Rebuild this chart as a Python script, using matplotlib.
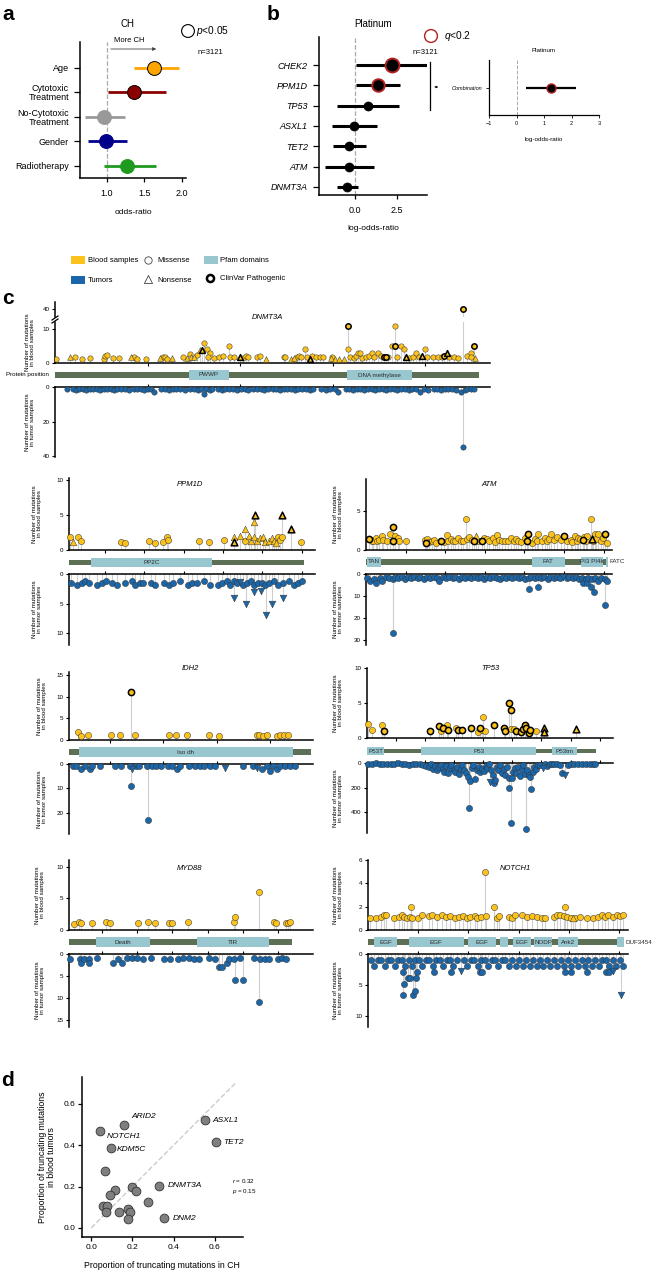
import matplotlib
matplotlib.use('Agg')
import matplotlib.pyplot as plt
from matplotlib.patches import Rectangle

plt.rcParams['font.family'] = ['Liberation Sans', 'DejaVu Sans']
plt.rcParams['mathtext.fontset'] = 'custom'
plt.rcParams['mathtext.it'] = 'Liberation Sans:italic'
plt.rcParams['mathtext.rm'] = 'Liberation Sans'

# ---------------- data ----------------
# panel a: odds ratios for CH
a_labels = ['Age', 'Cytotoxic\nTreatment', 'No-Cytotoxic\nTreatment', 'Gender', 'Radiotherapy']
a_or = [1.63, 1.36, 0.97, 0.99, 1.27]
a_lo = [1.36, 1.02, 0.72, 0.76, 0.97]
a_hi = [1.96, 1.79, 1.25, 1.27, 1.65]
a_sig = [True, True, False, False, False]

# panel b: platinum log-odds-ratios
b_genes = ['CHEK2', 'PPM1D', 'TP53', 'ASXL1', 'TET2', 'ATM', 'DNMT3A']
b_est = [2.2, 1.4, 0.75, -0.05, -0.35, -0.35, -0.45]
b_lo = [0.05, 0.05, -1.1, -1.35, -1.3, -1.8, -1.1]
b_hi = [4.3, 2.7, 2.6, 1.3, 0.65, 1.15, 0.2]
b_sig = [True, True, False, False, False, False, False]
comb_est, comb_lo, comb_hi = 1.25, 0.35, 2.15

# panel c: (protein position, count, type) m=missense n=nonsense, upper case = ClinVar pathogenic
dnmt3a_blood = [(2, 1.1, 'm'), (33, 1.9, 'n'), (43, 1.7, 'm'), (58, 1.1, 'm'), (76, 1.4, 'm'), (105, 1.1, 'm'),
                (108, 2.0, 'm'), (112, 2.3, 'm'), (126, 1.6, 'm'), (139, 1.4, 'm'), (164, 1.9, 'n'), (170, 1.7, 'm'),
                (177, 1.1, 'm'), (197, 1.1, 'm'), (227, 1.4, 'n'), (233, 1.9, 'm'), (238, 1.7, 'm'), (242, 1.1, 'm'),
                (253, 1.4, 'n'), (277, 1.7, 'm'), (285, 1.4, 'n'), (291, 2.8, 'm'), (294, 1.9, 'n'), (300, 1.7, 'n'),
                (307, 2.4, 'm'), (313, 3.8, 'n'), (317, 3.8, 'N'), (323, 6, 'm'), (329, 4, 'm'), (335, 3, 'm'),
                (330, 1.7, 'm'), (343, 1.4, 'm'), (354, 1.7, 'm'), (363, 2, 'm'), (376, 5, 'm'), (379, 1.7, 'm'),
                (386, 1.7, 'm'), (399, 1.7, 'N'), (407, 1.4, 'm'), (412, 2, 'm'), (417, 1.7, 'm'), (437, 1.9, 'm'),
                (444, 2, 'm'), (456, 1.1, 'n'), (495, 1.9, 'm'), (498, 1.7, 'm'), (511, 1.1, 'n'), (516, 1.4, 'n'),
                (522, 1.9, 'm'), (527, 2, 'm'), (532, 1.7, 'm'), (540, 4, 'm'), (544, 1.7, 'm'), (551, 1.1, 'N'),
                (556, 2, 'm'), (565, 1.7, 'm'), (573, 1.9, 'm'), (580, 1.9, 'm'), (596, 1.4, 'n'), (599, 1.7, 'm'),
                (604, 1.1, 'n'), (614, 1.1, 'n'), (625, 1.1, 'n'), (634, 11, 'M'), (634, 4, 'm'), (638, 1.7, 'm'),
                (646, 1.4, 'm'), (650, 2, 'm'), (655, 3, 'm'), (659, 3, 'm'), (664, 1.4, 'm'), (672, 1.7, 'm'),
                (679, 2, 'm'), (684, 3, 'm'), (690, 1.7, 'm'), (698, 3, 'm'), (704, 2, 'm'), (711, 1.7, 'M'),
                (715, 1.7, 'M'), (720, 1.7, 'm'), (729, 5, 'm'), (735, 11, 'm'), (735, 5, 'M'), (740, 1.7, 'm'),
                (747, 5, 'm'), (755, 4, 'm'), (758, 1.7, 'N'), (766, 1.4, 'm'), (773, 1.7, 'm'), (780, 3, 'm'),
                (787, 1.7, 'm'), (794, 2, 'N'), (799, 4, 'm'), (804, 1.7, 'm'), (816, 1.7, 'm'), (827, 1.9, 'm'),
                (836, 1.7, 'm'), (841, 2, 'M'), (847, 3, 'N'), (852, 1.7, 'm'), (863, 1.7, 'm'), (870, 1.4, 'm'),
                (882, 40, 'M'), (890, 2, 'm'), (898, 3, 'm'), (900, 1.7, 'm'), (905, 5, 'M'), (908, 1.4, 'n')]
dnmt3a_tumor = [(25, 1), (38, 1), (45, 2), (52, 1), (60, 1), (68, 2), (75, 1), (83, 1), (90, 1), (98, 2),
                (105, 1), (113, 1), (120, 1), (128, 2), (135, 1), (143, 1), (152, 1), (160, 2), (170, 1), (178, 1),
                (186, 1), (193, 2), (200, 1), (208, 1), (213, 3), (230, 1), (238, 1), (246, 2), (254, 1), (262, 1),
                (270, 1), (280, 2), (292, 1), (300, 1), (308, 2), (316, 1), (322, 4), (326, 1), (334, 2), (340, 1),
                (352, 1), (360, 2), (368, 1), (376, 1), (385, 1), (393, 2), (402, 1), (410, 1), (418, 2), (428, 1),
                (436, 1), (445, 1), (452, 2), (460, 1), (470, 1), (478, 1), (486, 2), (494, 1), (502, 1), (510, 1),
                (518, 2), (526, 1), (534, 1), (542, 1), (550, 2), (558, 1), (575, 1), (585, 2), (594, 1), (604, 1),
                (612, 3), (628, 1), (636, 1), (644, 2), (652, 1), (660, 1), (668, 2), (676, 1), (684, 1), (692, 2),
                (700, 1), (708, 1), (716, 2), (724, 1), (732, 1), (740, 2), (748, 1), (756, 1), (764, 2), (772, 1),
                (780, 1), (788, 3), (798, 1), (806, 2), (818, 1), (826, 1), (834, 2), (842, 1), (850, 1), (858, 1),
                (866, 2), (878, 3), (882, 35), (886, 2), (890, 1), (898, 1), (906, 1)]

ppm1d_blood = [(11, 1.9, 'm'), (18, 1.2, 'n'), (32, 1.8, 'm'), (38, 1.3, 'm'), (140, 1.2, 'm'), (151, 1.0, 'm'),
               (212, 1.3, 'm'), (228, 1.0, 'm'), (247, 1.2, 'm'), (257, 1.8, 'm'), (260, 1.4, 'm'), (338, 1.3, 'm'),
               (363, 1.1, 'm'), (403, 1.4, 'm'), (427, 1.2, 'N'), (428, 1.9, 'n'), (444, 2.0, 'n'), (455, 1.3, 'm'),
               (457, 3.0, 'n'), (465, 2.0, 'n'), (471, 1.3, 'n'), (478, 4.0, 'n'), (479, 1.9, 'n'), (482, 5.0, 'N'),
               (486, 1.3, 'n'), (493, 1.7, 'n'), (501, 1.9, 'n'), (507, 1.2, 'n'), (516, 1.3, 'n'), (524, 1.7, 'n'),
               (530, 1.3, 'n'), (535, 1.0, 'n'), (541, 1.9, 'm'), (545, 1.4, 'm'), (550, 1.9, 'm'), (551, 5.0, 'N'),
               (572, 3.0, 'N'), (599, 1.2, 'm')]
ppm1d_tumor = [(13, 1.5), (29, 1.9), (41, 1.5), (49, 1.2), (60, 1.5), (79, 1.9), (92, 1.5), (103, 1.2), (117, 1.5),
               (130, 1.9), (151, 1.5), (168, 1.2), (177, 1.9), (188, 1.5), (196, 1.5), (217, 1.5), (228, 1.9),
               (249, 1.5), (262, 1.9), (273, 1.5), (291, 1.2), (310, 1.9), (321, 1.5), (334, 1.5), (352, 1.2),
               (367, 1.9), (386, 1.9), (397, 1.5), (410, 1.2), (418, 1.9), (427, 4, 'n'), (427, 1.2), (435, 1.5),
               (444, 1.3, 'n'), (452, 1.9), (458, 5, 'n'), (461, 1.5), (471, 1.2), (478, 3, 'n'), (479, 1.9),
               (488, 1.5), (496, 2.9, 'n'), (500, 1.5), (509, 7, 'n'), (507, 1.9), (518, 1.5), (524, 5, 'n'),
               (529, 1.2), (541, 1.9), (552, 4, 'n'), (552, 1.5), (567, 1.2), (580, 1.9), (592, 1.5), (601, 1.2)]

atm_blood = [(42, 1.4, 'M'), (70, 1.2, 'm'), (93, 1.1, 'm'), (120, 1.6, 'm'), (143, 1.1, 'm'), (170, 1.3, 'm'),
             (197, 1.8, 'm'), (219, 1.3, 'm'), (261, 1.1, 'm'), (303, 2.0, 'm'), (337, 3.0, 'M'), (345, 1.2, 'M'),
             (366, 1.8, 'm'), (408, 1.5, 'm'), (417, 1.1, 'm'), (505, 1.15, 'm'), (745, 1.3, 'm'), (753, 0.9, 'M'),
             (774, 1.4, 'm'), (790, 1.0, 'm'), (829, 1.1, 'm'), (860, 1.3, 'm'), (884, 0.9, 'm'), (943, 1.2, 'M'),
             (990, 1.0, 'm'), (1027, 1.9, 'm'), (1039, 1.2, 'm'), (1070, 1.4, 'm'), (1094, 1.1, 'm'), (1124, 1.2, 'm'),
             (1166, 1.5, 'm'), (1195, 1.1, 'm'), (1229, 1.2, 'm'), (1258, 4.0, 'm'), (1271, 1.4, 'm'), (1305, 1.7, 'm'),
             (1334, 1.3, 'm'), (1364, 1.1, 'M'), (1385, 1.8, 'n'), (1420, 1.2, 'm'), (1461, 1.2, 'M'), (1490, 1.5, 'm'),
             (1524, 1.4, 'm'), (1557, 1.1, 'm'), (1599, 1.5, 'm'), (1630, 1.0, 'm'), (1650, 1.9, 'm'), (1684, 1.3, 'm'),
             (1713, 1.1, 'm'), (1755, 1.2, 'm'), (1797, 1.1, 'm'), (1827, 1.5, 'm'), (1869, 1.1, 'm'), (1900, 1.4, 'm'),
             (1924, 1.1, 'm'), (1960, 1.0, 'm'), (2008, 1.5, 'm'), (2029, 1.2, 'M'), (2050, 2.0, 'M'), (2092, 0.9, 'm'),
             (2130, 1.4, 'm'), (2164, 1.1, 'm'), (2176, 2.0, 'm'), (2220, 1.2, 'm'), (2260, 1.5, 'm'), (2290, 1.1, 'm'),
             (2310, 1.4, 'm'), (2332, 2.0, 'm'), (2374, 1.3, 'm'), (2416, 1.7, 'm'), (2458, 1.3, 'm'), (2500, 1.8, 'M'),
             (2542, 1.1, 'm'), (2584, 1.3, 'm'), (2600, 1.0, 'm'), (2639, 1.8, 'm'), (2669, 1.1, 'm'), (2680, 1.5, 'm'),
             (2703, 1.4, 'm'), (2736, 1.3, 'M'), (2753, 1.7, 'm'), (2778, 1.2, 'm'), (2795, 1.8, 'm'), (2841, 4.0, 'm'),
             (2850, 1.4, 'N'), (2870, 1.2, 'm'), (2892, 2.0, 'm'), (2910, 1.4, 'm'), (2934, 2.0, 'm'), (2963, 1.1, 'm'),
             (2988, 1.5, 'm'), (3018, 2.0, 'M'), (3039, 0.9, 'm')]
atm_tumor = [(12, 2), (48, 3), (95, 2.5), (128, 4), (176, 2), (205, 3), (254, 1.5), (287, 2), (336, 27), (336, 2.5),
             (372, 1.5), (405, 2), (458, 1.5), (492, 2.5), (527, 1.5), (574, 2), (606, 1.5), (655, 2), (688, 1.5),
             (733, 2.5), (776, 1.5), (808, 2), (853, 1.5), (894, 2), (925, 3), (972, 1.5), (1013, 2), (1046, 1.5),
             (1094, 2), (1127, 1.5), (1175, 2.5), (1206, 1.5), (1252, 2), (1295, 1.5), (1328, 2), (1374, 1.5),
             (1408, 2), (1455, 1.5), (1486, 2.5), (1534, 1.5), (1568, 2), (1612, 1.5), (1655, 2), (1688, 2.5),
             (1734, 1.5), (1766, 2), (1815, 1.5), (1848, 2), (1893, 1.5), (1926, 2), (1975, 1.5), (2006, 2.5),
             (2054, 7), (2054, 2), (2088, 1.5), (2135, 2), (2166, 1.5), (2176, 6), (2214, 2), (2247, 1.5), (2294, 2.5),
             (2326, 1.5), (2375, 2), (2406, 1.5), (2455, 2), (2487, 1.5, 'n'), (2534, 2), (2566, 1.5), (2615, 2),
             (2648, 1.5), (2694, 2.5), (2727, 2), (2745, 4), (2774, 2.5), (2790, 4), (2806, 2), (2841, 6), (2855, 2.5),
             (2884, 8), (2888, 2), (2934, 3), (2967, 2), (3014, 14), (3014, 2.5), (3046, 3)]

idh2_blood = [(39, 1.9, 'm'), (46, 1.0, 'm'), (59, 1.1, 'm'), (102, 1.15, 'm'), (119, 1.25, 'm'), (140, 11.1, 'M'),
              (147, 1.15, 'm'), (211, 1.15, 'm'), (224, 1.25, 'm'), (244, 1.15, 'm'), (286, 1.15, 'm'), (305, 0.95, 'm'),
              (375, 1.15, 'm'), (380, 1.15, 'm'), (388, 1.0, 'm'), (394, 1.15, 'm'), (414, 0.95, 'm'), (419, 1.15, 'm'),
              (427, 1.15, 'm'), (435, 1.25, 'm')]
idh2_tumor = [(30, 1), (37, 1), (45, 2), (53, 1), (62, 2), (67, 1), (82, 1), (109, 1), (120, 1), (137, 1), (140, 9),
              (142, 2, 'n'), (149, 1), (155, 1), (170, 1), (172, 23), (178, 1), (186, 1), (195, 1), (209, 1), (216, 1),
              (225, 2), (231, 1), (249, 1), (259, 1), (268, 1), (276, 1), (288, 1), (297, 1), (316, 1.5, 'n'),
              (350, 1), (368, 1), (376, 1.5, 'n'), (385, 2), (394, 1), (400, 3), (406, 1), (413, 2), (419, 1),
              (428, 1), (438, 1), (447, 1)]

tp53_blood = [(1, 2.0, 'm'), (8, 1.1, 'm'), (25, 1.8, 'm'), (29, 1.05, 'M'), (108, 1.0, 'M'), (123, 1.7, 'M'),
              (127, 1.05, 'm'), (131, 1.4, 'M'), (137, 1.85, 'm'), (140, 1.15, 'M'), (153, 1.4, 'm'), (157, 1.15, 'M'),
              (163, 1.15, 'M'), (178, 1.4, 'M'), (191, 0.9, 'm'), (194, 1.4, 'M'), (197, 1.15, 'm'), (200, 3.0, 'm'),
              (203, 1.05, 'm'), (219, 1.85, 'M'), (235, 1.5, 'M'), (237, 1.05, 'M'), (244, 5.0, 'M'), (247, 4.0, 'M'),
              (248, 1.25, 'm'), (253, 1.25, 'm'), (256, 1.05, 'M'), (264, 0.9, 'M'), (268, 1.25, 'M'), (272, 1.85, 'M'),
              (274, 1.5, 'M'), (278, 0.75, 'M'), (281, 1.15, 'M'), (290, 1.05, 'm'), (305, 1.4, 'N'), (305, 0.8, 'N'),
              (360, 1.25, 'N')]
tp53_tumor = [(2, 5), (9, 8), (15, 4), (22, 10), (27, 6), (34, 12), (41, 5), (47, 9), (53, 4), (60, 11), (66, 6),
              (72, 14), (79, 5), (85, 9), (91, 7), (97, 16), (102, 22), (106, 30), (110, 12), (113, 45), (117, 25),
              (120, 60), (124, 35), (127, 18), (130, 50), (133, 70), (136, 28), (139, 85), (142, 40), (145, 20),
              (149, 55), (152, 75), (155, 30), (158, 90), (161, 45), (164, 15), (167, 60), (170, 78), (173, 110),
              (175, 369), (177, 145), (180, 40), (183, 20), (186, 132), (189, 55), (192, 30), (195, 75), (198, 45),
              (201, 67), (204, 25), (207, 40), (210, 12), (211, 151, 'n'), (213, 55), (216, 100), (218, 164),
              (220, 140), (223, 35), (226, 60), (229, 20), (232, 80), (235, 50), (238, 95), (241, 30), (244, 120),
              (245, 205), (248, 492), (249, 121), (251, 70), (254, 40), (257, 85), (260, 30), (263, 105), (266, 55),
              (269, 20), (272, 90), (273, 541), (275, 60), (278, 94), (280, 110), (282, 213), (285, 70), (288, 35),
              (291, 50), (294, 20), (298, 15), (302, 40, 'n'), (306, 10), (310, 25), (314, 8), (318, 12), (322, 6),
              (327, 10), (332, 15), (336, 78), (340, 97, 'n'), (345, 20), (350, 8), (356, 12), (362, 5), (370, 6),
              (377, 10), (384, 5), (388, 8), (392, 5)]

myd88_blood = [(10, 0.95, 'm'), (17, 1.3, 'm'), (20, 1.15, 'm'), (35, 1.15, 'm'), (55, 1.3, 'm'), (61, 1.15, 'm'),
               (101, 1.15, 'm'), (115, 1.3, 'm'), (125, 1.05, 'm'), (145, 1.05, 'm'), (149, 1.15, 'm'), (172, 1.3, 'm'),
               (238, 1.3, 'm'), (239, 2.0, 'm'), (273, 6.1, 'm'), (294, 1.3, 'm'), (298, 1.05, 'm'), (312, 1.05, 'm'),
               (314, 1.15, 'm'), (317, 1.3, 'm')]
myd88_tumor = [(4, 1.2), (18, 1.2), (20, 2), (25, 1.2), (31, 1.2), (32, 2), (43, 1.0), (66, 2), (73, 1.2), (79, 2),
               (86, 1.0), (93, 1.0), (99, 1.0), (108, 1.2), (120, 1.0), (138, 1.2), (147, 1.2), (158, 1.2), (165, 1.0),
               (173, 1.0), (181, 1.2), (188, 1.2), (202, 1.0), (211, 1.2), (216, 3), (220, 3), (228, 2), (231, 1.2),
               (238, 1.2), (239, 6), (246, 1.0), (251, 6), (266, 1.0), (273, 11), (274, 1.2), (282, 1.2), (288, 1.2),
               (300, 1.2), (306, 1.0), (311, 1.2)]

notch1_blood = [(23, 1.05, 'm'), (79, 1.05, 'm'), (129, 1.15, 'm'), (155, 1.3, 'm'), (178, 1.3, 'm'), (261, 1.05, 'm'),
                (311, 1.15, 'm'), (334, 1.3, 'm'), (360, 1.15, 'm'), (387, 1.0, 'm'), (420, 1.15, 'm'), (427, 2.0, 'm'),
                (443, 1.0, 'm'), (499, 1.05, 'm'), (542, 1.3, 'm'), (609, 1.2, 'm'), (642, 1.3, 'm'), (684, 1.15, 'm'),
                (741, 1.3, 'm'), (774, 1.15, 'm'), (817, 1.2, 'm'), (863, 1.05, 'm'), (906, 1.15, 'm'), (949, 1.2, 'm'),
                (982, 1.05, 'm'), (1015, 1.15, 'm'), (1062, 1.2, 'm'), (1088, 1.05, 'm'), (1121, 1.15, 'm'),
                (1161, 5.0, 'm'), (1171, 1.2, 'm'), (1260, 2.0, 'm'), (1287, 1.05, 'm'), (1303, 1.2, 'm'),
                (1402, 1.15, 'm'), (1435, 1.05, 'm'), (1468, 1.3, 'm'), (1534, 1.3, 'm'), (1584, 1.15, 'm'),
                (1634, 1.2, 'm'), (1683, 1.15, 'm'), (1733, 1.05, 'm'), (1766, 1.0, 'm'), (1849, 1.15, 'm'),
                (1882, 1.3, 'm'), (1915, 1.3, 'm'), (1948, 1.2, 'm'), (1964, 2.0, 'm'), (1987, 1.15, 'm'),
                (2020, 1.05, 'm'), (2040, 1.0, 'n'), (2064, 1.0, 'm'), (2113, 1.15, 'm'), (2179, 1.0, 'm'),
                (2245, 1.0, 'm'), (2295, 1.15, 'm'), (2328, 1.3, 'm'), (2361, 1.15, 'm'), (2394, 1.3, 'm'),
                (2437, 1.15, 'm'), (2477, 1.3, 'm'), (2510, 1.2, 'm'), (2543, 1.3, 'm')]
notch1_tumor = [(28, 1), (62, 2), (95, 1), (131, 1), (166, 2), (198, 1), (233, 1), (268, 2), (302, 1), (336, 1),
                (353, 6.7), (353, 2.9), (363, 4.8), (372, 2), (394, 3.8), (405, 1), (420, 3.8), (438, 2), (453, 6.7),
                (466, 5.9), (476, 3.8), (486, 2.9), (473, 1), (508, 1), (541, 2), (577, 1), (611, 1), (646, 2),
                (660, 2.9), (679, 1), (714, 1), (748, 2), (782, 1), (817, 1), (830, 2.9), (851, 2), (886, 1),
                (923, 2.8, 'n'), (955, 1), (989, 2), (1024, 1), (1058, 1), (1093, 2), (1115, 2.9), (1127, 1),
                (1140, 2.9), (1162, 1), (1196, 2), (1231, 1), (1265, 1), (1299, 2), (1334, 1), (1368, 1), (1403, 2),
                (1437, 1), (1472, 2), (1506, 1), (1541, 2), (1575, 1), (1610, 2), (1644, 1), (1679, 2), (1713, 1),
                (1748, 2), (1782, 1), (1817, 2), (1851, 1), (1886, 2), (1920, 1), (1955, 2), (1960, 2.9), (1989, 1),
                (2020, 2.9), (2024, 2), (2058, 1), (2093, 2), (2127, 1), (2162, 2), (2185, 2.9), (2196, 1), (2231, 2),
                (2265, 1), (2300, 2), (2334, 1), (2370, 2.9), (2369, 1), (2400, 2.9), (2403, 2), (2444, 2.8, 'n'),
                (2438, 1), (2472, 2), (2506, 1), (2517, 6.7, 'n'), (2540, 2)]

# Pfam domains (start, end, label)
dnmt3a_dom = [(290, 375, 'PWWP'), (632, 771, 'DNA methylase')]
ppm1d_dom = [(64, 372, 'PP2C')]
atm_dom = [(12, 190, 'TAN'), (2096, 2510, 'FAT'), (2715, 2990, 'PI3 PI4k'), (3024, 3056, 'FATC')]
idh2_dom = [(42, 443, 'Iso dh')]
tp53_dom = [(0, 29, 'P53T'), (93, 291, 'P53'), (318, 361, 'P53tm')]
myd88_dom = [(41, 118, 'Death'), (185, 287, 'TIR')]
notch1_dom = [(60, 287, 'EGF'), (407, 952, 'EGF'), (992, 1280, 'EGF'), (1310, 1390, ''), (1448, 1627, 'EGF'),
              (1657, 1835, 'NODP'), (1895, 2093, 'Ank2'), (2480, 2550, 'DUF3454')]

# panel d
d_ch = [0.160, 0.042, 0.096, 0.554, 0.605, 0.330, 0.354, 0.069, 0.200, 0.216, 0.117, 0.093, 0.274, 0.058,
        0.074, 0.072, 0.136, 0.176, 0.186, 0.176]
d_blood = [0.500, 0.471, 0.387, 0.521, 0.415, 0.205, 0.047, 0.274, 0.198, 0.177, 0.181, 0.161, 0.126, 0.108,
           0.108, 0.076, 0.076, 0.092, 0.077, 0.045]
d_names = ['ARID2', 'NOTCH1', 'KDM5C', 'ASXL1', 'TET2', 'DNMT3A', 'DNM2']

# ---------------- style ----------------
YEL = '#FBC21B'
BLU = '#1B66A8'
TEAL = '#98C7D0'
BACK = '#5D7056'
STEM = '#cfcfcf'

W, H = 658, 1270
fig = plt.figure(figsize=(W / 100, H / 100), dpi=100)


def px_axes(x0, y0, x1, y1):
    ax = fig.add_axes([x0 / W, 1 - y1 / H, (x1 - x0) / W, (y1 - y0) / H])
    ax.patch.set_visible(False)
    return ax


def txt(x, y, s, **kw):
    kw.setdefault('ha', 'center')
    kw.setdefault('va', 'center')
    return fig.text(x / W, 1 - y / H, s, **kw)


ov = px_axes(0, 0, W, H)
ov.set_xlim(0, W)
ov.set_ylim(H, 0)
ov.axis('off')


def basic_spines(ax, lw=1.1):
    ax.spines['right'].set_visible(False)
    ax.spines['top'].set_visible(False)
    for s in ['left', 'bottom']:
        ax.spines[s].set_linewidth(lw)


# ---------------- panel a ----------------
a_cols = ['#FFA500', '#8B0000', '#999999', '#00008B', '#1E9A1E']
ax = px_axes(80, 42, 186, 178)
ax.axvline(1.0, color='#aaaaaa', ls='--', lw=0.9, zorder=1)
for i in range(len(a_labels)):
    ax.plot([a_lo[i], a_hi[i]], [i, i], color=a_cols[i], lw=2.0, solid_capstyle='butt', zorder=2)
    ax.plot(a_or[i], i, 'o', ms=10, mfc=a_cols[i], mec='black' if a_sig[i] else a_cols[i], mew=0.7, zorder=3)
ax.set_xlim(0.65, 2.05)
ax.set_ylim(4.49, -1.06)
ax.set_yticks(range(len(a_labels)))
ax.set_yticklabels(a_labels, fontsize=6.5, linespacing=1.0)
ax.set_xticks([1.0, 1.5, 2.0])
ax.set_xticklabels(['1.0', '1.5', '2.0'], fontsize=6.5)
ax.tick_params(axis='y', length=4, width=0.9, pad=4)
ax.tick_params(axis='x', length=3, width=0.9, pad=5)
basic_spines(ax)
txt(8, 14, 'a', fontsize=15, fontweight='bold')
txt(127, 24, 'CH', fontsize=7)
txt(129, 41, 'More CH', fontsize=5.5)
ov.annotate('', xy=(159, 49), xytext=(108, 49),
            arrowprops=dict(arrowstyle='-|>', lw=0.6, color='#444444', mutation_scale=5))
ov.scatter([188], [31], s=85, facecolor='none', edgecolor='black', linewidths=0.8)
txt(196, 31, r'$p$<0.05', fontsize=7.3, ha='left')
txt(210, 53, 'n=3121', fontsize=5.5)
txt(133, 212, 'odds-ratio', fontsize=6)

# ---------------- panel b ----------------
b_ms = [10, 9, 6.5, 6.5, 6.5, 6.5, 6.5]
ax = px_axes(319, 37, 427, 195)
ax.axvline(0.0, color='#aaaaaa', ls='--', lw=0.9, zorder=1)
for i in range(len(b_genes)):
    ax.plot([b_lo[i], b_hi[i]], [i, i], color='black', lw=2.2, solid_capstyle='butt', zorder=2)
    ax.plot(b_est[i], i, 'o', ms=b_ms[i], mfc='black', mec='#B22222' if b_sig[i] else 'black',
            mew=1.4 if b_sig[i] else 0.5, zorder=3)
ax.set_xlim(-2.15, 4.3)
ax.set_ylim(6.4, -1.38)
ax.set_yticks(range(len(b_genes)))
ax.set_yticklabels(b_genes, fontsize=6.5, style='italic')
ax.set_xticks([0.0, 2.5])
ax.set_xticklabels(['0.0', '2.5'], fontsize=6.5)
ax.tick_params(axis='y', length=4, width=0.9, pad=4)
ax.tick_params(axis='x', length=3, width=0.9, pad=5)
basic_spines(ax)
txt(273, 14, 'b', fontsize=15, fontweight='bold')
txt(373, 24, 'Platinum', fontsize=7)
ov.scatter([431], [36], s=85, facecolor='none', edgecolor='#B22222', linewidths=1.0)
txt(444, 36, r'$q$<0.2', fontsize=7.3, ha='left')
txt(425, 53, 'n=3121', fontsize=5.5)
txt(373, 229, 'log-odds-ratio', fontsize=6)
ov.plot([430, 430], [62, 110], color='black', lw=0.9)
ov.annotate('', xy=(441, 87), xytext=(432, 87),
            arrowprops=dict(arrowstyle='-|>', lw=0.5, color='black', mutation_scale=3))

axi = px_axes(489, 60, 599, 115)
axi.axvline(0.0, color='#aaaaaa', ls='--', lw=0.7, zorder=1)
axi.plot([comb_lo, comb_hi], [0, 0], color='black', lw=1.6, solid_capstyle='butt', zorder=2)
axi.plot(comb_est, 0, 'o', ms=6.5, mfc='black', mec='#B22222', mew=1.0, zorder=3)
axi.set_xlim(-1, 3)
axi.set_ylim(-1, 1)
axi.set_yticks([0])
axi.set_yticklabels(['Combination'], fontsize=4, style='italic')
axi.set_xticks([-1, 0, 1, 2, 3])
axi.set_xticklabels(['\u22121', '0', '1', '2', '3'], fontsize=4)
axi.tick_params(length=2, width=0.6, pad=2.5)
basic_spines(axi, lw=0.9)
txt(544, 50, 'Platinum', fontsize=4.5)
txt(544, 139, 'log-odds-ratio', fontsize=4.5)

# ---------------- legend of panel c ----------------
ov.add_patch(Rectangle((71, 256), 14, 8, color=YEL, lw=0))
ov.add_patch(Rectangle((71, 276), 14, 8, color=BLU, lw=0))
ov.add_patch(Rectangle((204, 256), 14, 8, color=TEAL, lw=0))
ov.scatter([148], [260], s=28, marker='o', facecolor='white', edgecolor='#444444', linewidths=0.6)
ov.scatter([148], [279], s=34, marker='^', facecolor='white', edgecolor='#444444', linewidths=0.6)
ov.scatter([210], [278], s=26, marker='o', facecolor='white', edgecolor='black', linewidths=1.8)
txt(88, 260, 'Blood samples', fontsize=5.5, ha='left')
txt(88, 280, 'Tumors', fontsize=5.5, ha='left')
txt(157, 260, 'Missense', fontsize=5.5, ha='left')
txt(157, 280, 'Nonsense', fontsize=5.5, ha='left')
txt(220, 260, 'Pfam domains', fontsize=5.5, ha='left')
txt(220, 278, 'ClinVar Pathogenic', fontsize=5.5, ha='left')
txt(8, 299, 'c', fontsize=15, fontweight='bold')


# ---------------- panel c: lollipops ----------------
def lolli(ax, pts, color, down=False, size=20, clip=False):
    for p in pts:
        ax.plot([p[0], p[0]], [0, p[1]], color=STEM, lw=0.8, zorder=1, solid_capstyle='butt', clip_on=clip)
    for kind in 'mnMN':
        sel = [p for p in pts if (p[2] if len(p) > 2 else 'm') == kind]
        if not sel:
            continue
        marker = 'o' if kind in 'mM' else ('v' if down else '^')
        clin = kind in 'MN'
        ax.scatter([p[0] for p in sel], [p[1] for p in sel], s=size * (1.15 if marker != 'o' else 1.0),
                   marker=marker, facecolor=color, edgecolor='black' if clin else '#333333',
                   linewidths=1.1 if clin else 0.35, zorder=4 if clin else 3, clip_on=clip)


def gene_axes(ax, ticks, top=False, yt=None):
    ax.spines['right'].set_visible(False)
    if top:
        ax.spines['bottom'].set_visible(False)
        ax.xaxis.tick_top()
    else:
        ax.spines['top'].set_visible(False)
    for s in ax.spines.values():
        s.set_linewidth(1.1)
    ax.set_xticks(ticks)
    ax.set_xticklabels([])
    ax.set_yticks(yt)
    ax.tick_params(axis='y', labelsize=4.5, width=0.8, length=2.5, pad=1.5)
    ax.tick_params(axis='x', width=0.8, length=2.5)


def gene(name, blood, tumor, doms, bar, xlim, ticks, x0, x1, up, up_lim, up_t, dom, lo, lo_lim, lo_t,
         title_xy, lab_x, size=20, clip_up=False):
    a1 = px_axes(x0, up[0], x1, up[1])
    a1.set_xlim(xlim)
    a1.set_ylim(0, up_lim)
    gene_axes(a1, ticks, yt=up_t)
    lolli(a1, blood, YEL, size=size, clip=clip_up)

    a2 = px_axes(x0, dom[0], x1, dom[1])
    a2.set_xlim(xlim)
    a2.set_ylim(0, 1)
    a2.axis('off')
    a2.add_patch(Rectangle((bar[0], 0.22), bar[1] - bar[0], 0.56, color=BACK, lw=0))
    for d0, d1, lab in doms:
        a2.add_patch(Rectangle((d0, 0), d1 - d0, 1, color=TEAL, lw=0))
        if lab in ('FATC', 'DUF3454'):
            a2.text(d1 + (xlim[1] - xlim[0]) * 0.005, 0.5, lab, fontsize=4.5, ha='left', va='center',
                    color='#2b2b2b', clip_on=False)
        elif lab in ('TAN', 'P53T'):
            a2.text(d0 + (xlim[1] - xlim[0]) * 0.005, 0.5, lab, fontsize=4.5, ha='left', va='center',
                    color='#2b2b2b', clip_on=False)
        elif lab:
            a2.text((d0 + d1) / 2, 0.5, lab, fontsize=4.5, ha='center', va='center', color='#2b2b2b')

    a3 = px_axes(x0, lo[0], x1, lo[1])
    a3.set_xlim(xlim)
    a3.set_ylim(lo_lim, 0)
    gene_axes(a3, ticks, top=True, yt=lo_t)
    lolli(a3, tumor, BLU, down=True, size=size)

    txt(title_xy[0], title_xy[1], name, fontsize=5.5, style='italic')
    txt(lab_x, (up[0] + up[1]) / 2, 'Number of mutations\nin blood samples', fontsize=4.5, rotation=90,
        linespacing=1.1)
    txt(lab_x, (lo[0] + lo[1]) / 2, 'Number of mutations\nin tumor samples', fontsize=4.5, rotation=90,
        linespacing=1.1)
    return a1


# DNMT3A with broken blood axis
a1 = gene('DNMT3A', dnmt3a_blood, dnmt3a_tumor, dnmt3a_dom, (0, 916), (0, 940), [200, 400, 600, 800],
          55, 490, (322, 363), 12.1, [0, 10], (370, 380), (387, 457), 40.5, [0, 20, 40],
          (267, 317), 30, size=15, clip_up=True)
at = px_axes(55, 302, 490, 317)
at.set_xlim(0, 940)
at.set_ylim(37.5, 42)
at.spines['right'].set_visible(False)
at.spines['top'].set_visible(False)
at.spines['bottom'].set_visible(False)
at.spines['left'].set_linewidth(1.1)
at.set_xticks([])
at.set_yticks([40])
at.tick_params(axis='y', labelsize=4.5, width=0.8, length=2.5, pad=1.5)
lolli(at, dnmt3a_blood, YEL, size=15, clip=True)
ov.plot([52, 58], [320, 316], color='black', lw=0.9)
ov.plot([52, 58], [323, 319], color='black', lw=0.9)
txt(27, 375, 'Protein position', fontsize=4.5)

gene('PPM1D', ppm1d_blood, ppm1d_tumor, ppm1d_dom, (8, 605), (8, 634), [100, 200, 300, 400, 500, 600],
     69, 315, (478, 550), 10.3, [0, 5, 10], (558, 567), (574, 645), 12, [0, 5, 10], (190, 485), 37)
gene('ATM', atm_blood, atm_tumor, atm_dom, (0, 3056), (0, 3106), [500, 1000, 1500, 2000, 2500, 3000],
     366, 612, (479, 550), 9.1, [0, 5], (557, 567), (574, 645), 32.3, [0, 10, 20, 30], (489, 485), 338)
gene('IDH2', idh2_blood, idh2_tumor, idh2_dom, (23, 477), (23, 481), [100, 200, 300, 400],
     69, 313, (672, 740), 15.8, [0, 5, 10, 15], (747, 757), (764, 834), 28.6, [0, 10, 20], (190, 669), 42)
gene('TP53', tp53_blood, tp53_tumor, tp53_dom, (0, 393), (0, 423), [50, 100, 150, 200, 250, 300, 350, 400],
     367, 613, (668, 738), 10.0, [0, 5, 10], (747, 755), (763, 833), 570, [0, 200, 400], (490, 668), 338)
gene('MYD88', myd88_blood, myd88_tumor, myd88_dom, (3, 320), (3, 350), [50, 100, 150, 200, 250, 300],
     69, 313, (860, 930), 11.1, [0, 5, 10], (937, 947), (954, 1027), 16.6, [0, 5, 10, 15], (190, 868), 40)
gene('NOTCH1', notch1_blood, notch1_tumor, notch1_dom, (0, 2555), (0, 2590), [500, 1000, 1500, 2000, 2500],
     368, 628, (860, 930), 6.0, [0, 2, 4, 6], (937, 947), (954, 1027), 11.8, [0, 5, 10], (515, 868), 338)

# ---------------- panel d ----------------
ax = px_axes(82, 1077, 243, 1237)
ax.plot([0, 0.7], [0, 0.7], color='#cccccc', ls='--', lw=1.0, zorder=1)
ax.scatter(d_ch, d_blood, s=40, facecolor='#7f7f7f', edgecolor='#333333', linewidths=0.6, zorder=3)
offs = [(5, 6), (5, -4), (4, -1), (5, 0), (5, 0), (6, 0), (6, 0)]
for i, nm in enumerate(d_names):
    ax.annotate(nm, (d_ch[i], d_blood[i]), xytext=offs[i], textcoords='offset points', fontsize=6,
                style='italic', ha='left', va='center')
ax.text(0.685, 0.226, r'$r$ = 0.32', fontsize=4.5, ha='left', va='center')
ax.text(0.685, 0.177, r'$p$ = 0.15', fontsize=4.5, ha='left', va='center')
ax.set_xlim(-0.045, 0.737)
ax.set_ylim(-0.044, 0.73)
ax.set_xticks([0, 0.2, 0.4, 0.6])
ax.set_xticklabels(['0.0', '0.2', '0.4', '0.6'], fontsize=6)
ax.set_yticks([0, 0.2, 0.4, 0.6])
ax.set_yticklabels(['0.0', '0.2', '0.4', '0.6'], fontsize=6)
ax.tick_params(length=3, width=0.9, pad=2)
basic_spines(ax)
txt(8, 1080, 'd', fontsize=15, fontweight='bold')
txt(162, 1265, 'Proportion of truncating mutations in CH', fontsize=6.3)
txt(47, 1157, 'Proportion of truncating mutations\nin blood tumors', fontsize=6.3, rotation=90, linespacing=1.0)

fig.savefig('out.png', dpi=100)
